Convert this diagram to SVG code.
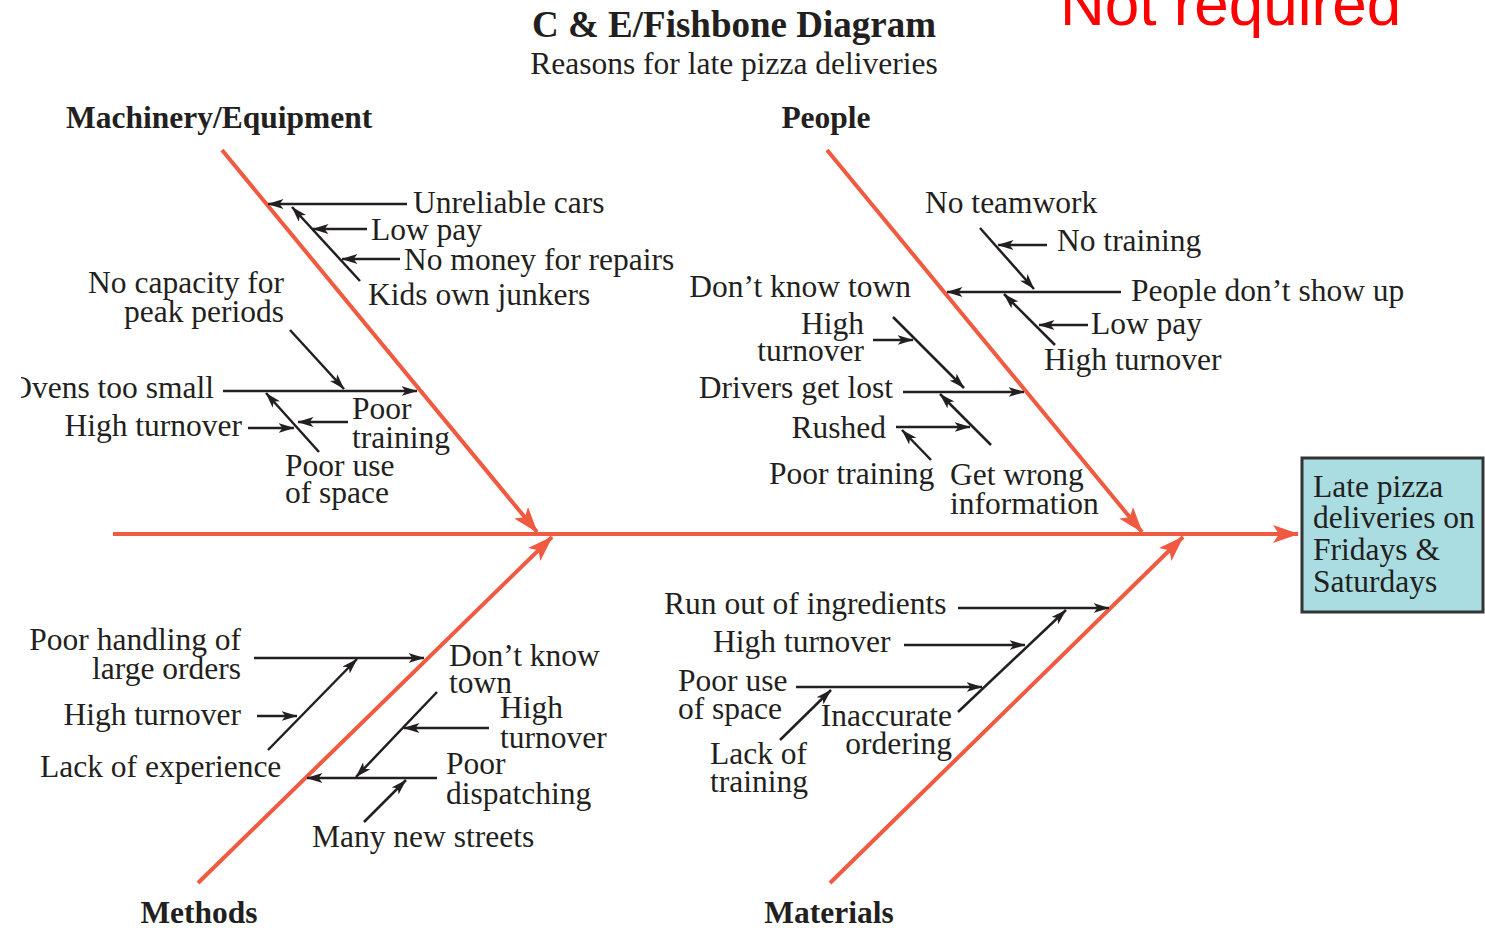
<svg xmlns="http://www.w3.org/2000/svg" width="1485" height="928" viewBox="0 0 1485 928">
  <style>
    text { font-family: "Liberation Serif", "Times New Roman", serif; font-size: 31.5px; fill: #231f20; }
    .hd { font-weight: bold; }
    .end { text-anchor: end; }
    .mid { text-anchor: middle; }
    .bone { stroke: #f05a40; stroke-width: 4; fill: none; marker-end: url(#redHead); }
    .sub { stroke: #231f20; stroke-width: 2.5; fill: none; marker-end: url(#blackHead); }
  </style>
  <defs>
    <marker id="blackHead" viewBox="0 0 16 10" refX="15.5" refY="5" markerWidth="16" markerHeight="10" orient="auto" markerUnits="userSpaceOnUse">
      <path d="M0,0 L16,5 L0,10 L4,5 z" fill="#231f20"/>
    </marker>
    <marker id="redHead" viewBox="0 0 26 18" refX="25" refY="9" markerWidth="26" markerHeight="18" orient="auto" markerUnits="userSpaceOnUse">
      <path d="M0,0 L26,9 L0,18 L6,9 z" fill="#f05a40"/>
    </marker>
    <clipPath id="leftEdge">
      <rect x="21" y="0" width="1464" height="928"/>
    </clipPath>
  </defs>

  <!-- headings -->
  <g id="title">
    <text class="hd mid" x="734" y="37" style="font-size:37px">C &amp; E/Fishbone Diagram</text>
    <text class="mid" x="734" y="74">Reasons for late pizza deliveries</text>
  </g>
  <g id="note">
    <text x="1060" y="25" style="font-family:'Liberation Sans', Arial, sans-serif; font-size:62px; fill:#ff0000">Not required</text>
  </g>

  <!-- spine and main bones -->
  <g id="connectors">
    <line class="bone" x1="113" y1="534" x2="1298" y2="534"/>
    <line class="bone" x1="222" y1="150" x2="537" y2="532"/>
    <line class="bone" x1="827" y1="150" x2="1142" y2="532"/>
    <line class="bone" x1="198" y1="883" x2="552" y2="537"/>
    <line class="bone" x1="830" y1="883" x2="1183" y2="537"/>
  </g>

  <!-- effect box -->
  <g id="effect">
    <rect x="1302" y="458" width="181" height="154" fill="#a9dde1" stroke="#333" stroke-width="3"/>
    <text x="1313" y="497">Late pizza</text>
    <text x="1313" y="528">deliveries on</text>
    <text x="1313" y="560">Fridays &amp;</text>
    <text x="1313" y="592">Saturdays</text>
  </g>

  <!-- Machinery/Equipment -->
  <g id="machinery">
    <text class="hd" x="66" y="128">Machinery/Equipment</text>
    <line class="sub" x1="407" y1="204" x2="268" y2="204"/>
    <text x="413" y="213">Unreliable cars</text>
    <line class="sub" x1="360" y1="281" x2="292" y2="207"/>
    <line class="sub" x1="367" y1="229" x2="313" y2="229"/>
    <text x="371" y="240">Low pay</text>
    <line class="sub" x1="400" y1="259" x2="342" y2="259"/>
    <text x="404" y="270">No money for repairs</text>
    <text x="368" y="305">Kids own junkers</text>
    <text class="end" x="284" y="293">No capacity for</text>
    <text class="end" x="284" y="322">peak periods</text>
    <line class="sub" x1="290" y1="330" x2="344" y2="389"/>
    <line class="sub" x1="223" y1="391" x2="417" y2="391"/>
    <text class="end" x="214" y="398" clip-path="url(#leftEdge)">Ovens too small</text>
    <line class="sub" x1="319" y1="452" x2="266" y2="393"/>
    <line class="sub" x1="248" y1="428" x2="294" y2="428"/>
    <text class="end" x="242" y="436">High turnover</text>
    <line class="sub" x1="348" y1="422" x2="298" y2="422"/>
    <text x="352" y="419">Poor</text>
    <text x="352" y="448">training</text>
    <text x="285" y="476">Poor use</text>
    <text x="285" y="503">of space</text>
  </g>

  <!-- People -->
  <g id="people">
    <text class="hd mid" x="826" y="128">People</text>
    <text x="925" y="213">No teamwork</text>
    <line class="sub" x1="980" y1="228" x2="1034" y2="289"/>
    <line class="sub" x1="1047" y1="245" x2="998" y2="245"/>
    <text x="1057" y="251">No training</text>
    <line class="sub" x1="1121" y1="292" x2="947" y2="292"/>
    <text x="1131" y="301">People don’t show up</text>
    <text class="end" x="911" y="297">Don’t know town</text>
    <line class="sub" x1="1055" y1="345" x2="1004" y2="294"/>
    <line class="sub" x1="1088" y1="325" x2="1039" y2="325"/>
    <text x="1091" y="334">Low pay</text>
    <text x="1044" y="370">High turnover</text>
    <text class="end" x="864" y="334">High</text>
    <text class="end" x="864" y="361">turnover</text>
    <line class="sub" x1="873" y1="340" x2="913" y2="340"/>
    <line class="sub" x1="893" y1="317" x2="964" y2="388"/>
    <line class="sub" x1="903" y1="392" x2="1024" y2="392"/>
    <text class="end" x="893" y="398">Drivers get lost</text>
    <line class="sub" x1="991" y1="445" x2="940" y2="394"/>
    <line class="sub" x1="896" y1="427" x2="970" y2="427"/>
    <text class="end" x="886" y="438">Rushed</text>
    <line class="sub" x1="931" y1="460" x2="902" y2="430"/>
    <text x="769" y="484">Poor training</text>
    <text x="950" y="485">Get wrong</text>
    <text x="950" y="514">information</text>
  </g>

  <!-- Methods -->
  <g id="methods">
    <text class="hd mid" x="199" y="923">Methods</text>
    <text class="end" x="241" y="650">Poor handling of</text>
    <text class="end" x="241" y="679">large orders</text>
    <line class="sub" x1="254" y1="658" x2="424" y2="658"/>
    <line class="sub" x1="268" y1="750" x2="357" y2="659"/>
    <text class="end" x="241" y="725">High turnover</text>
    <line class="sub" x1="257" y1="716" x2="297" y2="716"/>
    <text x="40" y="777">Lack of experience</text>
    <text x="449" y="666">Don’t know</text>
    <text x="449" y="693">town</text>
    <line class="sub" x1="437" y1="692" x2="356" y2="777"/>
    <text x="500" y="718">High</text>
    <text x="500" y="748">turnover</text>
    <line class="sub" x1="489" y1="728" x2="404" y2="728"/>
    <line class="sub" x1="437" y1="778" x2="307" y2="778"/>
    <text x="446" y="774">Poor</text>
    <text x="446" y="804">dispatching</text>
    <line class="sub" x1="364" y1="822" x2="406" y2="780"/>
    <text x="312" y="847">Many new streets</text>
  </g>

  <!-- Materials -->
  <g id="materials">
    <text class="hd mid" x="829" y="923">Materials</text>
    <text x="664" y="614">Run out of ingredients</text>
    <line class="sub" x1="958" y1="608" x2="1109" y2="608"/>
    <line class="sub" x1="958" y1="712" x2="1066" y2="610"/>
    <text x="713" y="652">High turnover</text>
    <line class="sub" x1="904" y1="645" x2="1025" y2="645"/>
    <text x="678" y="691">Poor use</text>
    <text x="678" y="719">of space</text>
    <line class="sub" x1="796" y1="687" x2="982" y2="687"/>
    <line class="sub" x1="780" y1="740" x2="831" y2="690"/>
    <text class="end" x="952" y="726">Inaccurate</text>
    <text class="end" x="952" y="754">ordering</text>
    <text x="710" y="764">Lack of</text>
    <text x="710" y="792">training</text>
  </g>
</svg>
